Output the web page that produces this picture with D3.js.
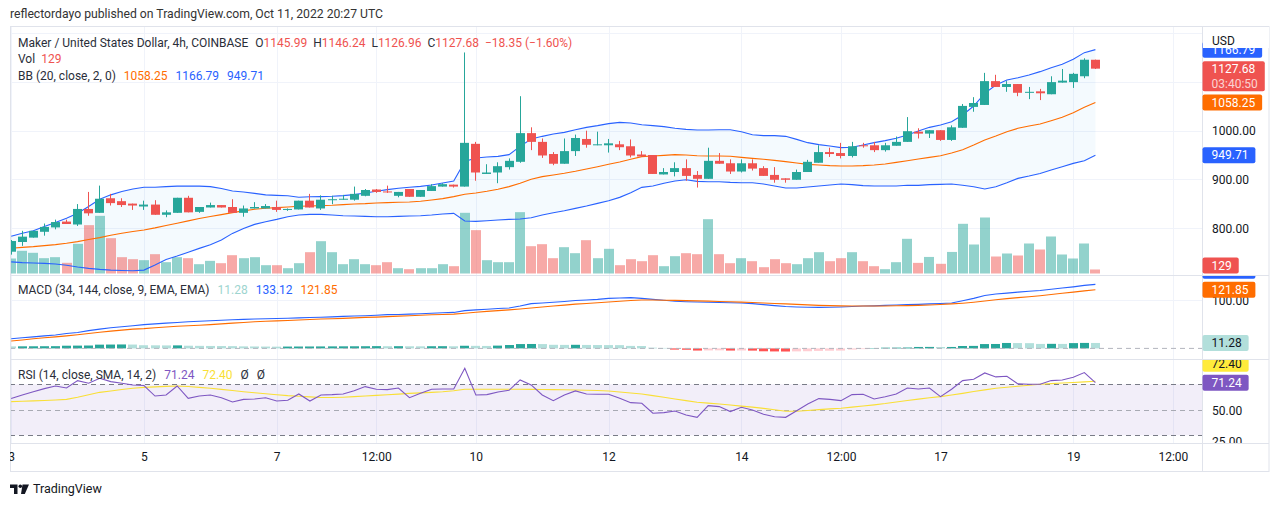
<!DOCTYPE html>
<html><head><meta charset="utf-8">
<script src="https://cdn.jsdelivr.net/npm/d3@7/dist/d3.min.js"></script>
<style>
html,body{margin:0;padding:0;background:#ffffff;overflow:hidden;}
svg{display:block;}
text{font-family:Roboto,"Noto Sans",Arial,sans-serif;}
</style></head><body>
<svg id="chart" width="1280" height="506"></svg>
<script>
// ---------------- DATA ----------------
const startTime = "2022-10-03T00:00:00Z";   // first 4h candle
const candleHours = 4;

const opens = [751,771,780,792,801,813,807,839,831,861,
  855,850,844,848,827,831,862,833,842,847,
  843,831,840,840,843,837,838,856,840,857,
  858,858,866,879,875,866,880,864,876,885,
  889,885,973,911,914,925,936,995,977,952,
  932,958,983,970,970,972,968,951,950,910,
  915,923,909,901,938,933,916,933,923,909,
  902,899,915,934,956,954,948,970,970,960,
  969,977,998,994,1001,981,1006,1049,1053,1102,
  1090,1096,1078,1081,1075,1099,1100,1112,1145.99];
const highs = [775,794,794,809,817,817,849,874,887,870,
  861,850,856,857,836,862,866,843,852,847,
  859,846,853,849,856,840,856,870,867,866,
  868,885,880,880,887,874,880,878,890,892,
  889,1161,977,931,935,943,1071,1007,984,956,
  984,992,1000,998,983,979,982,958,950,923,
  935,941,917,965,954,941,941,941,927,925,
  902,920,940,970,965,975,977,975,977,975,
  988,1028,1005,1001,1001,1011,1055,1069,1119,1115,
  1102,1096,1090,1086,1112,1127,1119,1149,1146.24];
const lows = [745,763,780,784,797,808,804,825,831,846,
  843,837,837,827,822,831,832,831,842,842,
  831,823,840,840,833,835,838,842,837,849,
  858,856,865,872,872,863,864,864,876,885,
  883,885,897,911,892,920,934,960,944,929,
  932,948,965,970,955,960,945,947,911,910,
  906,897,883,901,932,911,914,918,907,893,
  893,899,915,934,946,943,945,965,956,957,
  969,977,984,985,979,979,1006,1039,1053,1090,
  1080,1071,1065,1063,1075,1099,1088,1108,1126.96];
const closes = [773,782,794,802,812,808,839,830,860,851,
  847,846,848,827,832,862,832,843,847,842,
  831,840,843,845,837,839,856,842,858,859,
  860,870,878,874,873,874,864,878,886,890,
  885,975,914,914,927,938,995,977,949,932,
  958,985,971,972,974,966,949,947,911,915,
  923,907,901,938,932,916,933,922,907,899,
  899,915,936,956,952,948,968,968,960,970,
  977,999,994,1001,981,1007,1051,1057,1102,1090,
  1096,1078,1080,1077,1100,1103,1117,1146.03,1127.68];
const volumes = [480,726,662,490,522,342,950,1547,1845,1130,
  522,458,426,618,362,522,490,298,405,330,
  586,490,522,266,266,170,330,682,1034,682,
  298,458,298,266,362,170,138,170,170,298,
  234,1942,1387,426,362,362,1963,874,938,490,
  842,650,1066,490,790,266,458,394,586,234,
  554,650,618,1738,618,330,490,394,202,458,
  330,298,490,682,394,490,682,394,234,138,
  362,1110,340,530,310,690,1590,928,1792,544,
  640,576,960,768,1184,608,480,960,129];
const bbUpper = [783,789,794,803,811,820,830,844,859,868,
  875,880,883.5,883.5,885,886,886,886,885,881,
  876,874,871,868,867,866,863,864,864.3,865,
  866.4,868.4,871.9,875.3,878.7,881.5,883.5,885.5,888.3,892.4,
  896.5,936.9,943.8,945.9,947.2,950.7,967.8,982.9,988.4,993.2,
  996.6,1002,1006.9,1010.4,1014.5,1017.2,1015.9,1012.4,1010.4,1008.3,
  1004.9,1002.8,1001.4,1001.4,1002.1,1002.1,998,991.8,989.8,989.8,
  988.4,982.2,975.4,971.3,968.5,965.1,965.8,970.6,975.4,979.5,
  984.3,991.2,999.4,1006.9,1011.7,1018.6,1032.3,1050.8,1076.9,1094,
  1104.3,1109.1,1114.6,1121.5,1129.7,1136.6,1146.9,1160.6,1166.79];
const bbBasis = [758,760,761.5,763.6,765.6,768.4,771.8,776,780,784.9,
  789,792.5,795.8,800,804.8,809.6,814.4,819.2,823.3,827.4,
  831.5,835,838.3,840.3,841.8,843,844.4,845,845.8,846.5,
  847.9,849.3,849.9,851.3,852,852.7,853.4,854.7,857.5,860.2,
  864.3,869.1,871.9,875.3,879.4,884.9,891.8,900,905.5,908.9,
  912.3,916.4,921.2,926,930.8,935.6,941.1,946.6,947.9,949.3,
  950.7,950,948.6,947.9,947.9,947.3,945.2,943.1,941.1,939,
  936.3,933.5,930.8,929.4,928.1,927.4,927.4,928.1,929.4,931.5,
  934.9,938.3,941.8,945.2,948.6,954,961,970.6,980.9,989.1,
  998,1004.9,1009.7,1013.8,1020.6,1027.5,1037.1,1048.1,1058.25];
const bbLower = [730,728.5,727.8,727.1,725.7,723,719.4,716.7,714.6,713.2,
  712.5,711.8,713.2,723.5,735,742,750,757.9,765.4,775,
  788.7,799,807.2,812.7,817.5,823,826.4,827.8,827.8,826.4,
  825.1,824.4,823.7,823,823,823.7,824.4,825.1,826.4,828.5,
  829.9,814.1,813.4,814.8,816.2,817.6,818.2,821,826.4,831.2,
  835.3,840.1,844.9,850.4,855.9,862.8,872.4,883.4,886.2,891.7,
  896.5,899.2,895.8,895.1,895.1,893.7,893,893,890.3,886.2,
  882.1,882.1,884.2,886.2,888.3,890.3,889,886.9,886.2,886.2,
  886.2,887.6,887.6,889,889.6,890.3,887.6,884.8,880,884.8,
  893,901.9,906.7,912.1,919,925.9,932.8,938.3,949.71];
const macdLine = [20,22,24,26,28,31,33,37,40,43,
  45,47,49.5,51,52.5,54,55.5,56.6,57.5,58.5,
  59.5,60.3,61,61.6,62.1,62.8,63.5,64.2,64.9,65.6,
  66.5,67.3,68,69,70.3,70.6,71.3,72,73,74,
  74.8,78.5,80,81.5,83,84,88,93,94.5,95.8,
  97.5,99.5,100.6,102,104,104.8,105.5,104,102,100,
  98,97,96.5,96,95.5,95,94.3,93,91,89,
  87,86,85.5,85.3,85.5,86,87,88,88.5,89.5,
  90.2,91,91.5,92.5,93.5,94.3,99,104,110,113,
  115,117,118.8,120.5,123,125.5,128,131,133.12];
const signalLine = [15.4,17.5,20,22,24,26,28.5,31,33.5,36,
  38,40,41.2,43,44.5,46,47,48.2,49.5,51,
  52.5,54,55.5,56.5,57.3,58,59,60,61,61.5,
  62.5,63.5,64.5,65,66,67.1,68,69,70,70.5,
  71.3,73,75,77,78.5,80,82,84,86,88,
  90,92,93.5,95,96.5,98,99.5,100.6,100.5,100.2,
  99.8,99.3,98.8,98.2,97.5,97,96.3,95.5,94.5,93.5,
  92.5,91.5,90.5,89.5,88.9,88.5,88.2,88.1,88.1,88.3,
  88.6,89,89.5,90.2,91.2,92.5,94,96,98.5,101,
  103.5,105.5,107.5,109.5,112,114.5,117,119.5,121.85];
const macdHist = [4.2,4.3,4.4,4.5,4.6,5.6,5.8,6.0,7.8,8.0,
  8.2,8.0,6.6,6.4,6.2,6.3,5.6,5.3,5.1,4.9,
  4.7,4.2,4.0,3.8,3.6,3.8,3.9,4.0,4.1,4.2,
  4.3,4.4,4.5,4.7,4.5,4.6,4.4,4.3,4.5,4.6,
  4.4,5.5,5.3,5.1,5.8,7.0,9.0,9.2,9.0,7.5,
  7.3,7.5,7.2,7.0,6.9,6.8,5.2,5.0,1.5,1.0,
  -2.5,-2.8,-4.5,-4.2,-4.0,-4.5,-4.3,-4.6,-6.0,-6.3,
  -6.5,-6.2,-5.9,-5.2,-4.8,-4.5,-2.5,-1.5,0.8,1.5,
  1.6,1.8,3.0,3.1,2.9,3.0,5.0,5.2,9.0,9.2,
  11.3,11.1,10.9,9.3,9.5,9.3,11.0,11.4,11.28];
const rsiValues = [58.8,61.6,64.2,66.6,68.7,67.1,72.9,70.8,74.7,72.1,
  70.8,69.5,69.0,60.8,61.6,68.7,59.0,60.8,61.6,59.5,
  56.1,58.2,58.5,59.5,56.9,57.5,62.4,56.9,61.6,61.9,
  62.4,65.0,68.2,66.1,65.8,67.1,59.5,62.9,66.1,66.3,
  66.3,82.5,61.6,61.9,64.0,65.3,73.4,69.5,61.6,57.2,
  61.6,64.8,62.4,62.2,62.2,59.0,55.6,55.1,47.3,47.8,
  49.1,45.9,44.1,53.3,52.5,48.6,52.0,49.9,46.5,44.6,
  44.1,49.3,54.6,58.8,58.2,57.2,61.9,62.2,58.5,60.3,
  62.4,67.1,66.3,67.1,60.3,66.1,72.9,73.9,78.9,75.8,
  76.3,70.3,70.0,70.0,72.9,73.4,75.5,79.2,71.24];
const rsiSma = [56.4,56.7,57.0,57.3,57.7,58.2,59.8,61.8,63.7,64.8,
  65.9,66.9,67.6,68.0,68.4,68.7,68.3,67.6,66.9,66.0,
  65.1,64.2,63.4,62.6,61.8,61.1,60.6,60.1,59.7,59.6,
  59.9,60.3,60.8,61.3,61.8,62.3,62.9,63.3,63.7,64.1,
  64.9,66.1,66.1,66.1,66.1,66.1,66.1,66.0,65.9,65.8,
  65.7,65.5,65.3,65.1,64.8,64.0,63.2,62.4,61.1,59.8,
  58.5,57.2,55.9,55.2,54.5,53.8,52.9,52.1,51.1,50.1,
  48.9,48.9,49.5,50.1,50.7,51.2,52.1,53.0,53.9,54.9,
  56.1,57.3,58.4,59.4,60.3,61.6,62.9,64.3,65.6,66.9,
  67.7,68.5,69.3,70.0,70.5,71.0,71.4,71.9,72.4];

const priceTicks = [800, 900, 1000, 1100, 1200];
const macdTicks = [0, 100];
const rsiTicks = [25, 50, 75];
const rsiBands = [70, 50, 30];
const timeTicks = ["2022-10-03T00:00:00Z","2022-10-05T00:00:00Z","2022-10-07T00:00:00Z","2022-10-08T12:00:00Z",
  "2022-10-10T00:00:00Z","2022-10-12T00:00:00Z","2022-10-14T00:00:00Z","2022-10-15T12:00:00Z",
  "2022-10-17T00:00:00Z","2022-10-19T00:00:00Z","2022-10-20T12:00:00Z"];
const timeTickLabels = ["3","5","7","12:00","10","12","14","12:00","17","19","12:00"];
const countdown = "03:40:50";
const titleText = "reflectordayo published on TradingView.com, Oct 11, 2022 20:27 UTC";
const symbolText = "Maker / United States Dollar, 4h, COINBASE";

// ---------------- STYLE ----------------
const COL = {
  teal:'#26a69a', red:'#ef5350', volTeal:'rgba(38,166,154,0.5)', volRed:'rgba(239,83,80,0.5)',
  blue:'#2962ff', orange:'#ff6d00', bbFill:'rgba(33,150,243,0.05)',
  hUp:'#26a69a', hUpFall:'#b2dfdb', hDn:'#ff5252', hDnRise:'#ffcdd2',
  rsi:'#7e57c2', rsiMa:'#f9df36', rsiBg:'rgba(126,87,194,0.1)',
  grid:'#f0f3fa', border:'#e0e3eb', text:'#131722', legend:'#2a2e39'
};
const L = 10, R = 1202, AXR = 1269;
const P = {main:{top:26,bottom:275}, macd:{top:276,bottom:359}, rsi:{top:360,bottom:443}, xaxis:{top:443,bottom:471}};
const LEG_FS = 12, AX_FS = 12;

const svg = d3.select('#chart');
const n = opens.length, last = n - 1;
const t0 = Date.parse(startTime);
const times = opens.map((_, i) => new Date(t0 + i * candleHours * 3600e3));

const x = d3.scaleUtc().domain([times[0], times[last]]).range([11.2, 1095.4]);
const y = d3.scaleLinear().domain([800, 1000]).range([227.9, 130.7]);
const yVol = d3.scaleLinear().domain([0, 2000]).range([273.5, 211]);
const yM = d3.scaleLinear().domain([0, 100]).range([348.4, 300.3]);
const yR = d3.scaleLinear().domain([30, 70]).range([435.3, 384.3]);
const fmt = d3.format('.2f');

// clip paths (page coordinates; only applied to untransformed groups)
const defs = svg.append('defs');
function clip(id, x0, y0, x1, y1) {
  defs.append('clipPath').attr('id', id).append('rect')
    .attr('x', x0).attr('y', y0).attr('width', x1 - x0).attr('height', y1 - y0);
  return `url(#${id})`;
}
const cMain = clip('cMain', L, P.main.top, R, P.main.bottom);
const cMacd = clip('cMacd', L, P.macd.top, R, P.macd.bottom);
const cRsi = clip('cRsi', L, P.rsi.top, R, P.rsi.bottom);
const cAxMain = clip('cAxMain', R, P.main.top, AXR, P.main.bottom);
const cAxMacd = clip('cAxMacd', R, P.macd.top, AXR, P.macd.bottom);
const cAxRsi = clip('cAxRsi', R, P.rsi.top, AXR, P.rsi.bottom);
const cXAx = clip('cXAx', L, P.xaxis.top, R, P.xaxis.bottom);

svg.append('rect').attr('width', 1280).attr('height', 506).attr('fill', '#fff');

// ---------------- GRID ----------------
const tickDates = timeTicks.map(s => new Date(s));
svg.append('g').selectAll('line').data(tickDates).join('line')
  .attr('x1', d => Math.round(x(d)) + 0.5).attr('x2', d => Math.round(x(d)) + 0.5)
  .attr('y1', P.main.top).attr('y2', P.rsi.bottom)
  .attr('stroke', COL.grid).attr('stroke-width', 1);
svg.append('g').attr('clip-path', cMain).selectAll('line').data(priceTicks).join('line')
  .attr('x1', L).attr('x2', R).attr('y1', d => Math.round(y(d)) + 0.5).attr('y2', d => Math.round(y(d)) + 0.5)
  .attr('stroke', COL.grid);
svg.append('g').attr('clip-path', cMacd).selectAll('line').data(macdTicks.filter(d => d !== 0)).join('line')
  .attr('x1', L).attr('x2', R).attr('y1', d => Math.round(yM(d)) + 0.5).attr('y2', d => Math.round(yM(d)) + 0.5)
  .attr('stroke', COL.grid);

// ---------------- MAIN PANE ----------------
const gMain = svg.append('g').attr('clip-path', cMain);
const idx = d3.range(n);
gMain.append('path').datum(idx)
  .attr('d', d3.area().x(i => x(times[i])).y0(i => y(bbLower[i])).y1(i => y(bbUpper[i])))
  .attr('fill', COL.bbFill);
const up = i => closes[i] >= opens[i];
gMain.append('g').selectAll('rect').data(idx).join('rect')
  .attr('x', i => Math.round(x(times[i]) - 5)).attr('width', 10)
  .attr('y', i => yVol(volumes[i])).attr('height', i => yVol(0) - yVol(volumes[i]))
  .attr('fill', i => up(i) ? COL.volTeal : COL.volRed);
[[bbUpper, COL.blue], [bbLower, COL.blue], [bbBasis, COL.orange]].forEach(([arr, c]) => {
  gMain.append('path').datum(idx)
    .attr('d', d3.line().x(i => x(times[i])).y(i => y(arr[i])))
    .attr('fill', 'none').attr('stroke', c).attr('stroke-width', 1.1);
});
const gC = gMain.append('g');
gC.selectAll('line').data(idx).join('line')
  .attr('x1', i => Math.round(x(times[i]) - 4.5) + 4.5).attr('x2', i => Math.round(x(times[i]) - 4.5) + 4.5)
  .attr('y1', i => y(highs[i])).attr('y2', i => y(lows[i]))
  .attr('stroke', i => up(i) ? COL.teal : COL.red).attr('stroke-width', 1);
gC.selectAll('rect').data(idx).join('rect')
  .attr('x', i => Math.round(x(times[i]) - 4.5)).attr('width', 9)
  .attr('y', i => y(Math.max(opens[i], closes[i])))
  .attr('height', i => Math.max(1, Math.abs(y(opens[i]) - y(closes[i]))))
  .attr('fill', i => up(i) ? COL.teal : COL.red);

// ---------------- MACD PANE ----------------
const gM = svg.append('g').attr('clip-path', cMacd);
const histColor = i => {
  const v = macdHist[i], p = i > 0 ? macdHist[i - 1] : v;
  return v >= 0 ? (v > p ? COL.hUp : COL.hUpFall) : (v < p ? COL.hDn : COL.hDnRise);
};
gM.append('g').selectAll('rect').data(idx).join('rect')
  .attr('x', i => Math.round(x(times[i]) - 4.5)).attr('width', 9)
  .attr('y', i => Math.min(yM(0), yM(macdHist[i])))
  .attr('height', i => Math.abs(yM(macdHist[i]) - yM(0)))
  .attr('fill', histColor);
gM.append('line').attr('x1', L).attr('x2', R).attr('y1', yM(0)).attr('y2', yM(0))
  .attr('stroke', '#b2b5be').attr('stroke-dasharray', '5,4');
[[macdLine, COL.blue], [signalLine, COL.orange]].forEach(([arr, c]) => {
  gM.append('path').datum(idx).attr('d', d3.line().x(i => x(times[i])).y(i => yM(arr[i])))
    .attr('fill', 'none').attr('stroke', c).attr('stroke-width', 1.1);
});

// ---------------- RSI PANE ----------------
const gR = svg.append('g').attr('clip-path', cRsi);
gR.append('rect').attr('x', L).attr('width', R - L).attr('y', yR(70)).attr('height', yR(30) - yR(70)).attr('fill', COL.rsiBg);
gR.selectAll('line.band').data(rsiBands).join('line').attr('class', 'band')
  .attr('x1', L).attr('x2', R).attr('y1', d => Math.round(yR(d)) + 0.5).attr('y2', d => Math.round(yR(d)) + 0.5)
  .attr('stroke', d => d === 50 ? '#a8aab3' : '#787b86').attr('stroke-dasharray', '5,4');
[[rsiSma, COL.rsiMa], [rsiValues, COL.rsi]].forEach(([arr, c]) => {
  gR.append('path').datum(idx).attr('d', d3.line().x(i => x(times[i])).y(i => yR(arr[i])))
    .attr('fill', 'none').attr('stroke', c).attr('stroke-width', 1.1);
});

// ---------------- FRAME ----------------
const gF = svg.append('g').attr('stroke', COL.border).attr('fill', 'none');
gF.append('rect').attr('x', L + 0.5).attr('y', P.main.top + 0.5).attr('width', AXR - L - 0.5).attr('height', P.xaxis.bottom - P.main.top);
[P.main.bottom, P.macd.bottom, P.rsi.bottom].forEach(v =>
  gF.append('line').attr('x1', L).attr('x2', AXR).attr('y1', v + 0.5).attr('y2', v + 0.5));
gF.append('line').attr('x1', R + 0.5).attr('x2', R + 0.5).attr('y1', P.main.top).attr('y2', P.xaxis.bottom);

// ---------------- AXIS VALUE LABELS (placement) ----------------
function placeLabels(items, gap) {
  const placed = [];
  items.forEach(it => {
    let yc = it.y;
    for (let k = 0; k < 20; k++) {
      const hit = placed.find(p => (yc - it.up) < (p.yc + p.down + gap) && (p.yc - p.up) < (yc + it.down + gap));
      if (!hit) break;
      yc = it.v > hit.v ? hit.yc - hit.up - gap - it.down : hit.yc + hit.down + gap + it.up;
    }
    if (it.maxBottom !== undefined) yc = Math.min(yc, it.maxBottom - it.down);
    it.yc = yc; placed.push(it);
  });
  return items;
}
const mainLabels = placeLabels([
  {v: closes[last], y: y(closes[last]), up: 7.5, down: 22.5, bg: COL.red,
   lines: [{t: fmt(closes[last]), c: '#fff'}, {t: countdown, c: 'rgba(255,255,255,0.75)'}]},
  {v: bbUpper[last], y: y(bbUpper[last]), up: 8, down: 8, bg: COL.blue, lines: [{t: fmt(bbUpper[last]), c: '#fff'}]},
  {v: bbLower[last], y: y(bbLower[last]), up: 8, down: 8, bg: COL.blue, lines: [{t: fmt(bbLower[last]), c: '#fff'}]},
  {v: bbBasis[last], y: y(bbBasis[last]), up: 8, down: 8, bg: COL.orange, lines: [{t: fmt(bbBasis[last]), c: '#fff'}]},
  {v: -1, y: yVol(volumes[last]), up: 8, down: 8, maxBottom: 273.5, bg: COL.red, lines: [{t: String(volumes[last]), c: '#fff'}]}
], 3);
const usdBox = {yc: 37.5, up: 10.5, down: 10.5};
const macdLabels = placeLabels([
  {v: macdHist[last], y: yM(macdHist[last]), up: 8, down: 8, bg: COL.hUpFall, lines: [{t: fmt(macdHist[last]), c: COL.text}]},
  {v: signalLine[last], y: yM(signalLine[last]), up: 8, down: 8, bg: COL.orange, lines: [{t: fmt(signalLine[last]), c: '#fff'}]},
  {v: macdLine[last], y: yM(macdLine[last]), up: 8, down: 8, bg: COL.blue, lines: [{t: fmt(macdLine[last]), c: '#fff'}]}
], 3);
const rsiLabels = placeLabels([
  {v: rsiValues[last], y: yR(rsiValues[last]), up: 8, down: 8, bg: COL.rsi, lines: [{t: fmt(rsiValues[last]), c: '#fff'}]},
  {v: rsiSma[last], y: yR(rsiSma[last]), up: 8, down: 8, bg: '#ffeb3b', lines: [{t: fmt(rsiSma[last]), c: COL.text}]}
], 3);

// ---------------- AXES (ticks hidden where a value label sits on them) ----------------
function freeTicks(ticks, scale, boxes) {
  return ticks.filter(t => {
    const ty = scale(t);
    return !boxes.some(b => ty + 2 > b.yc - b.up && ty - 2 < b.yc + b.down);
  });
}
function rightAxis(scale, ticks, clipUrl) {
  const outer = svg.append('g').attr('clip-path', clipUrl);
  const g = outer.append('g').attr('transform', `translate(${R},0)`)
    .call(d3.axisRight(scale).tickValues(ticks).tickFormat(fmt).tickSize(0).tickPadding(10));
  g.select('.domain').remove();
  g.selectAll('text').attr('fill', COL.text).style('font-size', AX_FS + 'px').attr('dy', '0.35em');
}
rightAxis(y, freeTicks(priceTicks, y, mainLabels.concat([usdBox])), cAxMain);
rightAxis(yM, freeTicks(macdTicks, yM, macdLabels), cAxMacd);
rightAxis(yR, freeTicks(rsiTicks, yR, rsiLabels), cAxRsi);
const gxOuter = svg.append('g').attr('clip-path', cXAx);
const gx = gxOuter.append('g').attr('transform', `translate(0,${P.xaxis.top})`)
  .call(d3.axisBottom(x).tickValues(tickDates).tickFormat((d, i) => timeTickLabels[i]).tickSize(0));
gx.select('.domain').remove();
gx.selectAll('text').attr('y', 14).attr('dy', '0.35em').attr('fill', COL.text).style('font-size', AX_FS + 'px');

// ---------------- AXIS VALUE LABELS (drawing) ----------------
function drawLabels(items, clipUrl) {
  const g = svg.append('g').attr('clip-path', clipUrl);
  items.slice().reverse().forEach(it => {
    const lg = g.append('g');
    const rect = lg.append('rect');
    let w = 0;
    it.lines.forEach((ln, k) => {
      const t = lg.append('text').attr('x', R + 9.5).attr('y', it.yc + k * 15).attr('dy', '0.35em')
        .style('font-size', AX_FS + 'px').attr('fill', ln.c).text(ln.t);
      w = Math.max(w, t.node().getComputedTextLength());
    });
    rect.attr('x', R + 0.5).attr('y', it.yc - it.up).attr('width', w + 16).attr('height', it.up + it.down)
      .attr('rx', 2).attr('fill', it.bg);
  });
}
drawLabels(mainLabels, cAxMain);
const gU = svg.append('g');
gU.append('rect').attr('x', R + 1).attr('y', usdBox.yc - usdBox.up).attr('width', AXR - R - 1)
  .attr('height', usdBox.up + usdBox.down).attr('fill', '#fff');
gU.append('text').attr('x', R + 10).attr('y', 41).attr('dy', '0.35em').style('font-size', AX_FS + 'px')
  .attr('fill', COL.text).text('USD');
drawLabels(macdLabels, cAxMacd);
drawLabels(rsiLabels, cAxRsi);

// ---------------- LEGENDS ----------------
function legend(yc, parts) {
  const t = svg.append('text').attr('x', 18).attr('y', yc).attr('dy', '0.35em').style('font-size', LEG_FS + 'px');
  parts.forEach(p => t.append('tspan').attr('dx', p.g || 0).attr('fill', p.c || COL.legend).text(p.t));
}
const chg = closes[last] - closes[last - 1];
const chgPct = chg / closes[last - 1] * 100;
const vc = up(last) ? COL.teal : COL.red;
const signed = v => (v < 0 ? '\u2212' : '+') + fmt(Math.abs(v));
legend(42.3, [
  {t: symbolText},
  {t: 'O', g: 7}, {t: fmt(opens[last]), c: vc},
  {t: 'H', g: 6}, {t: fmt(highs[last]), c: vc},
  {t: 'L', g: 6}, {t: fmt(lows[last]), c: vc},
  {t: 'C', g: 6}, {t: fmt(closes[last]), c: vc},
  {t: `${signed(chg)} (${signed(chgPct)}%)`, g: 6, c: vc}
]);
legend(58.8, [{t: 'Vol'}, {t: String(volumes[last]), g: 6, c: vc}]);
legend(75.5, [{t: 'BB (20, close, 2, 0)'}, {t: fmt(bbBasis[last]), g: 8, c: COL.orange},
  {t: fmt(bbUpper[last]), g: 8, c: COL.blue}, {t: fmt(bbLower[last]), g: 8, c: COL.blue}]);
legend(290, [{t: 'MACD (34, 144, close, 9, EMA, EMA)'}, {t: fmt(macdHist[last]), g: 8, c: '#9ed5cf'},
  {t: fmt(macdLine[last]), g: 8, c: COL.blue}, {t: fmt(signalLine[last]), g: 8, c: COL.orange}]);
legend(374.5, [{t: 'RSI (14, close, SMA, 14, 2)'}, {t: fmt(rsiValues[last]), g: 8, c: COL.rsi},
  {t: fmt(rsiSma[last]), g: 8, c: COL.rsiMa}, {t: '\u00d8', g: 8}, {t: '\u00d8', g: 8}]);

// title & footer
svg.append('text').attr('x', 10).attr('y', 14).attr('dy', '0.35em').style('font-size', '12.2px')
  .attr('fill', '#333').text(titleText);
const logo = svg.append('g').attr('fill', COL.text);
logo.append('path').attr('d', 'M10,484.5 h7.5 v9.5 h-3.5 v-6 h-4 z');
logo.append('circle').attr('cx', 20.3).attr('cy', 486.3).attr('r', 1.8);
logo.append('path').attr('d', 'M22.5,484.5 h6.5 l-4.2,9.5 h-3.8 z');
svg.append('text').attr('x', 33).attr('y', 489).attr('dy', '0.35em').style('font-size', '12.5px')
  .attr('fill', COL.text).text('TradingView');
</script>
</body></html>
